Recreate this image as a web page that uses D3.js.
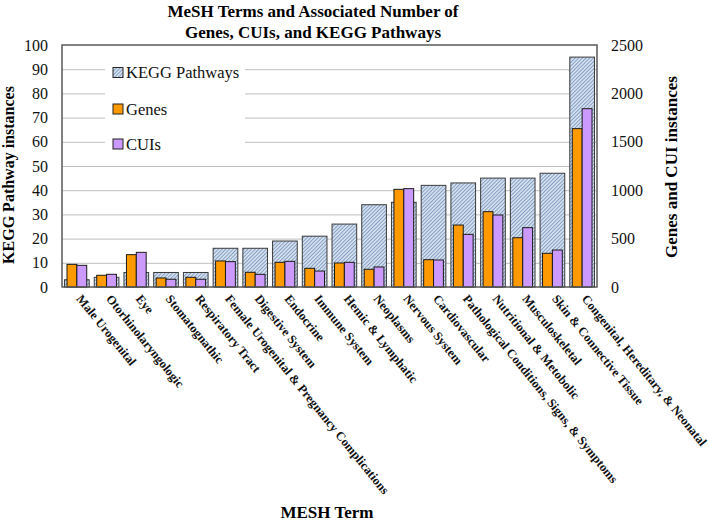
<!DOCTYPE html>
<html><head><meta charset="utf-8">
<script src="https://cdn.jsdelivr.net/npm/d3@7"></script>
<style>body{margin:0;background:#fff}svg{display:block}</style>
</head><body><svg id="c" width="709" height="523" style="font-family:'Liberation Serif','Times New Roman',Tinos,'DejaVu Serif',serif"></svg>
<script>
const categories = ["Male Urogenital","Otorhinolaryngologic","Eye","Stomatognathic","Respiratory Tract","Female Urogenital & Pregnancy Complications","Digestive System","Endocrine","Immune System","Hemic & Lymphatic","Neoplasms","Nervous System","Cardiovascular","Pathological Conditions, Signs, & Symptoms","Nutritional & Metobolic","Musculoskeletal","Skin & Connective Tissue","Congenital, Hereditary, & Neonatal"];
const kegg  = [3,4,6,6,6,16,16,19,21,26,34,35,42,43,45,45,47,95];
const genes = [234,121,334,93,100,269,152,255,193,248,183,1009,282,640,778,509,348,1636];
const cuis  = [224,131,358,80,80,262,131,265,165,255,207,1016,279,544,744,613,382,1842];
const leftTicks = [0,10,20,30,40,50,60,70,80,90,100];
const rightTicks = [0,500,1000,1500,2000,2500];
const seriesNames = ["KEGG Pathways","Genes","CUIs"];
const colors = {Genes:"#ff9900", CUIs:"#cc99ff"};
const FONT = "'Liberation Serif','Times New Roman',Tinos,'DejaVu Serif',serif";

const svg = d3.select("#c");
const L=62, R=597, T=45, B=287;
const x = d3.scaleBand().domain(categories).range([L,R]).paddingInner(0.17).paddingOuter(0.085);
const xs = d3.scaleBand().domain(["Genes","CUIs"]).range([x.bandwidth()*0.1, x.bandwidth()*0.9]);
const yL = d3.scaleLinear().domain([0,100]).range([B,T]);
const yR = d3.scaleLinear().domain([0,2500]).range([B,T]);

const defs = svg.append("defs");
const pat = defs.append("pattern").attr("id","hatch").attr("patternUnits","userSpaceOnUse")
  .attr("width",2.6).attr("height",2.6).attr("patternTransform","rotate(45)");
pat.append("rect").attr("width",2.6).attr("height",2.6).attr("fill","#d6e2f0");
pat.append("line").attr("x1",0.5).attr("y1",0).attr("x2",0.5).attr("y2",2.6).attr("stroke","#7d97bd").attr("stroke-width",0.9);

svg.append("g").attr("transform",`translate(${L},0)`)
  .call(d3.axisLeft(yL).tickValues(leftTicks.slice(1,-1)).tickSize(-(R-L)).tickFormat(""))
  .call(g=>g.select(".domain").remove())
  .call(g=>g.selectAll("line").attr("stroke","#bfbfbf").attr("stroke-width",1));

const lg = svg.append("g");
lg.append("rect").attr("x",105).attr("y",61).attr("width",140).attr("height",91).attr("fill","#fff");

svg.append("g").selectAll("rect").data(categories).join("rect")
  .attr("x",d=>x(d)).attr("width",x.bandwidth())
  .attr("y",(d,i)=>yL(kegg[i])).attr("height",(d,i)=>B-yL(kegg[i]))
  .attr("fill","url(#hatch)").attr("stroke","#3a3a3a").attr("stroke-width",1);

const sub = [{k:"Genes",v:genes},{k:"CUIs",v:cuis}];
sub.forEach(s=>{
  svg.append("g").selectAll("rect").data(categories).join("rect")
    .attr("x",d=>x(d)+xs(s.k)).attr("width",xs.bandwidth())
    .attr("y",(d,i)=>yR(s.v[i])).attr("height",(d,i)=>B-yR(s.v[i]))
    .attr("fill",colors[s.k]).attr("stroke","#1a1a1a").attr("stroke-width",1);
});

svg.append("rect").attr("x",L).attr("y",T).attr("width",R-L).attr("height",B-T)
  .attr("fill","none").attr("stroke","#595959").attr("stroke-width",1.5);

svg.append("g").attr("transform",`translate(${L},0)`)
  .call(d3.axisLeft(yL).tickValues(leftTicks).tickSize(0).tickPadding(14).tickFormat(d3.format("d")))
  .call(g=>g.select(".domain").remove())
  .call(g=>g.attr("font-family",null))
  .call(g=>g.selectAll("text").attr("font-size",16).style("font-family",FONT).attr("fill","#111"));
svg.append("g").attr("transform",`translate(${R},0)`)
  .call(d3.axisRight(yR).tickValues(rightTicks).tickSize(0).tickPadding(14).tickFormat(d3.format("d")))
  .call(g=>g.select(".domain").remove())
  .call(g=>g.attr("font-family",null))
  .call(g=>g.selectAll("text").attr("font-size",16).style("font-family",FONT).attr("fill","#111"));

svg.append("g").selectAll("text").data(categories).join("text")
  .attr("transform",d=>`translate(${x(d)+x.bandwidth()/2-1},${B+12}) rotate(51)`)
  .attr("font-size",12.5).attr("font-weight","bold").attr("fill","#111").style("font-family",FONT).text(d=>d);

const items = [{n:seriesNames[0],f:"url(#hatch)",y:72.5},{n:seriesNames[1],f:colors.Genes,y:109},{n:seriesNames[2],f:colors.CUIs,y:144}];
items.forEach(it=>{
  lg.append("rect").attr("x",113).attr("y",it.y-5).attr("width",10).attr("height",10)
    .attr("fill",it.f).attr("stroke","#222").attr("stroke-width",1);
  lg.append("text").attr("x",126).attr("y",it.y+5.5).attr("font-size",16.5).attr("fill","#111").style("font-family",FONT).text(it.n);
});

function t(x0,y0,txt,size,rot){
  const e = svg.append("text").attr("text-anchor","middle").attr("font-size",size).attr("font-weight","bold").style("font-family",FONT).text(txt);
  e.attr("transform",`translate(${x0},${y0})${rot?" rotate("+rot+")":""}`);
}
t(313,17,"MeSH Terms and Associated Number of",17);
t(313,38,"Genes, CUIs, and KEGG Pathways",17);
t(14,175,"KEGG Pathway instances",16,-90);
t(677,167,"Genes and CUI instances",17,-90);
t(327,518,"MESH Term",17);
</script></body></html>
